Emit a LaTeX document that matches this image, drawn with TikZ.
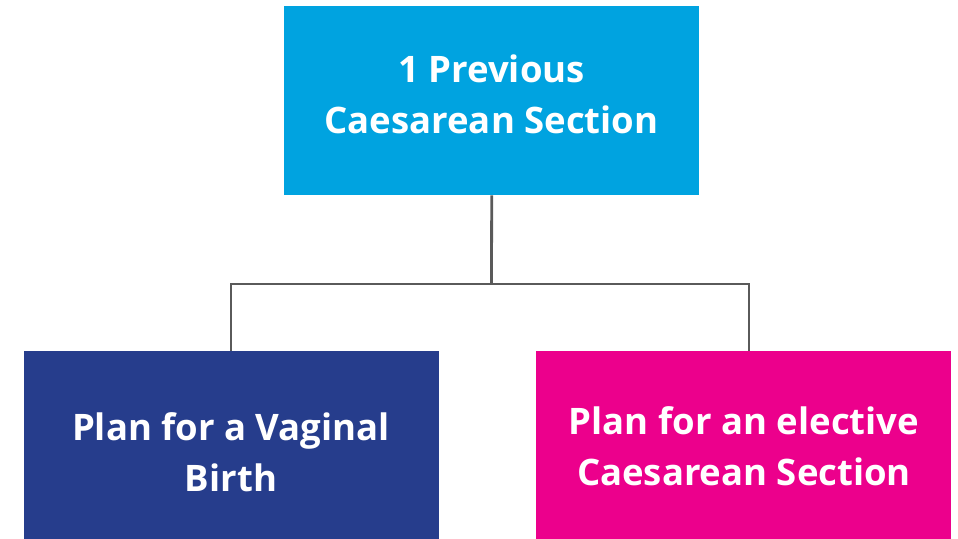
\documentclass[tikz,border=0pt]{standalone}
\usepackage{fontspec}
\setmainfont{Open Sans}
\definecolor{topblue}{HTML}{00A3E0}
\definecolor{navy}{HTML}{263D8C}
\definecolor{magenta}{HTML}{EC008C}
\definecolor{linegray}{HTML}{5A5A5A}
\begin{document}
\begin{tikzpicture}[x=1pt,y=-1pt,
  box/.style={draw=none,minimum width=415pt,minimum height=189pt,inner sep=0pt},
  lbl/.style={text=white,font=\fontsize{36.5}{51}\selectfont\bfseries,align=center,inner sep=0pt},
  conn/.style={draw=linegray,line width=2.8pt}]
\useasboundingbox (0,0) rectangle (958,538);
\node[box,fill=topblue,anchor=north west] (top) at (284,6) {};
\node[box,fill=navy,anchor=north west,minimum height=190pt] (left) at (24,351) {};
\node[box,fill=magenta,anchor=north west,minimum height=190pt] (right) at (536,351) {};
\node[lbl] (ttop) at (491.5,94) {1 Previous\\Caesarean Section};
\node[lbl] (tleft) at (231,452) {Plan for a Vaginal\\Birth};
\node[lbl] (tright) at (744,446) {Plan for an elective\\Caesarean Section};
\coordinate (mid) at (491.5,284);
\draw[conn] (top.south) -- (mid);
\draw[conn] (left.north -| 231,0) |- (mid) -| (right.north -| 749,0);
\end{tikzpicture}
\end{document}
